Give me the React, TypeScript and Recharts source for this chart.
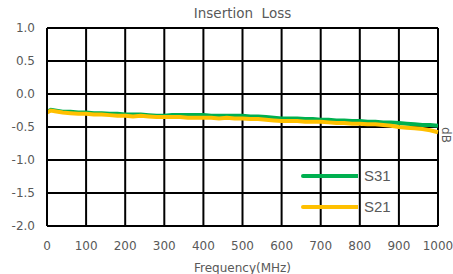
import React from 'react';
import { LineChart, Line, XAxis, YAxis, CartesianGrid, Label } from 'recharts';

const freqs = [0, 10, 20, 40, 60, 80, 100, 120, 140, 160, 180, 200, 220, 240, 260, 280, 300, 320, 340, 360, 380, 400, 420, 440, 460, 480, 500, 520, 540, 560, 580, 600, 620, 640, 660, 680, 700, 720, 740, 760, 780, 800, 820, 840, 860, 880, 900, 920, 940, 960, 980, 1000];
const s31 = [-0.27, -0.24, -0.25, -0.27, -0.27, -0.28, -0.28, -0.29, -0.29, -0.30, -0.30, -0.31, -0.31, -0.31, -0.32, -0.33, -0.33, -0.32, -0.32, -0.32, -0.32, -0.32, -0.33, -0.33, -0.33, -0.33, -0.33, -0.34, -0.34, -0.35, -0.36, -0.37, -0.37, -0.37, -0.38, -0.38, -0.39, -0.39, -0.40, -0.40, -0.41, -0.41, -0.42, -0.42, -0.43, -0.43, -0.44, -0.45, -0.46, -0.47, -0.47, -0.48];
const s21 = [-0.28, -0.25, -0.26, -0.28, -0.29, -0.30, -0.30, -0.31, -0.31, -0.32, -0.33, -0.33, -0.34, -0.33, -0.34, -0.35, -0.35, -0.35, -0.35, -0.36, -0.36, -0.36, -0.36, -0.37, -0.36, -0.37, -0.37, -0.38, -0.38, -0.39, -0.40, -0.41, -0.41, -0.41, -0.42, -0.42, -0.42, -0.43, -0.44, -0.44, -0.45, -0.45, -0.46, -0.46, -0.47, -0.48, -0.50, -0.51, -0.52, -0.53, -0.55, -0.58];
const xTicks = [0, 100, 200, 300, 400, 500, 600, 700, 800, 900, 1000];
const yTicks = [-2.0, -1.5, -1.0, -0.5, 0.0, 0.5, 1.0];
const seriesNames = ['S31', 'S21'];
const seriesColors = ['#00B050', '#FFC000'];

const data = freqs.map((f, i) => ({ f, S31: s31[i], S21: s21[i] }));

const GRAY = '#595959';
const FONT = '"DejaVu Sans", sans-serif';

const LegendBox = () => (
  <div style={{ position: 'absolute', left: 300, top: 160, width: 110, fontFamily: '"Liberation Sans", sans-serif', fontSize: 15, color: GRAY }}>
    {seriesNames.map((n, i) => (
      <div key={n} style={{ display: 'flex', alignItems: 'center', height: 31 }}>
        <svg width={58} height={8}>
          <line x1={3} y1={4} x2={58} y2={4} stroke={seriesColors[i]} strokeWidth={4} strokeLinecap="round" />
        </svg>
        <span style={{ marginLeft: 6 }}>{n}</span>
      </div>
    ))}
  </div>
);

export default function App() {
  return (
    <div style={{ position: 'absolute', left: 0, top: 0, width: 453, height: 274, background: '#fff', overflow: 'hidden' }}>
      <div style={{ position: 'absolute', left: 0, top: 5, width: 453, textAlign: 'center', fontFamily: FONT, fontSize: 13.5, color: GRAY, paddingLeft: 32, boxSizing: 'border-box' }}>
        Insertion&nbsp;&nbsp;Loss
      </div>
      <LineChart width={453} height={274} data={data} margin={{ top: 28, right: 0, left: 0, bottom: 18 }}>
        <CartesianGrid yAxisId="l" stroke="#000" strokeWidth={2} horizontal vertical />
        <XAxis
          dataKey="f"
          type="number"
          domain={[0, 1000]}
          ticks={xTicks}
          interval={0}
          height={30}
          tickSize={0}
          tickMargin={15}
          axisLine={{ stroke: '#000', strokeWidth: 2 }}
          tick={{ fill: GRAY, fontSize: 12, fontFamily: FONT }}
        >
          <Label value="Frequency(MHz)" position="insideBottom" offset={-16} style={{ fill: GRAY, fontSize: 12, fontFamily: FONT }} />
        </XAxis>
        <YAxis
          yAxisId="l"
          type="number"
          domain={[-2, 1]}
          ticks={yTicks}
          interval={0}
          width={47}
          tickSize={0}
          tickMargin={12}
          axisLine={{ stroke: '#000', strokeWidth: 2 }}
          tickFormatter={(v: number) => v.toFixed(1)}
          tick={{ fill: GRAY, fontSize: 12, fontFamily: FONT }}
        />
        <YAxis
          yAxisId="r"
          orientation="right"
          width={15}
          tick={false}
          axisLine={false}
          tickLine={false}
          domain={[-2, 1]}
        >
          <Label value="dB" angle={90} position="center" dx={1} dy={8} style={{ fill: GRAY, fontSize: 12, fontFamily: FONT }} />
        </YAxis>
        <Line yAxisId="l" dataKey="S31" stroke={seriesColors[0]} strokeWidth={4} dot={false} isAnimationActive={false} />
        <Line yAxisId="l" dataKey="S21" stroke={seriesColors[1]} strokeWidth={4} dot={false} isAnimationActive={false} />
      </LineChart>
      <LegendBox />
    </div>
  );
}
